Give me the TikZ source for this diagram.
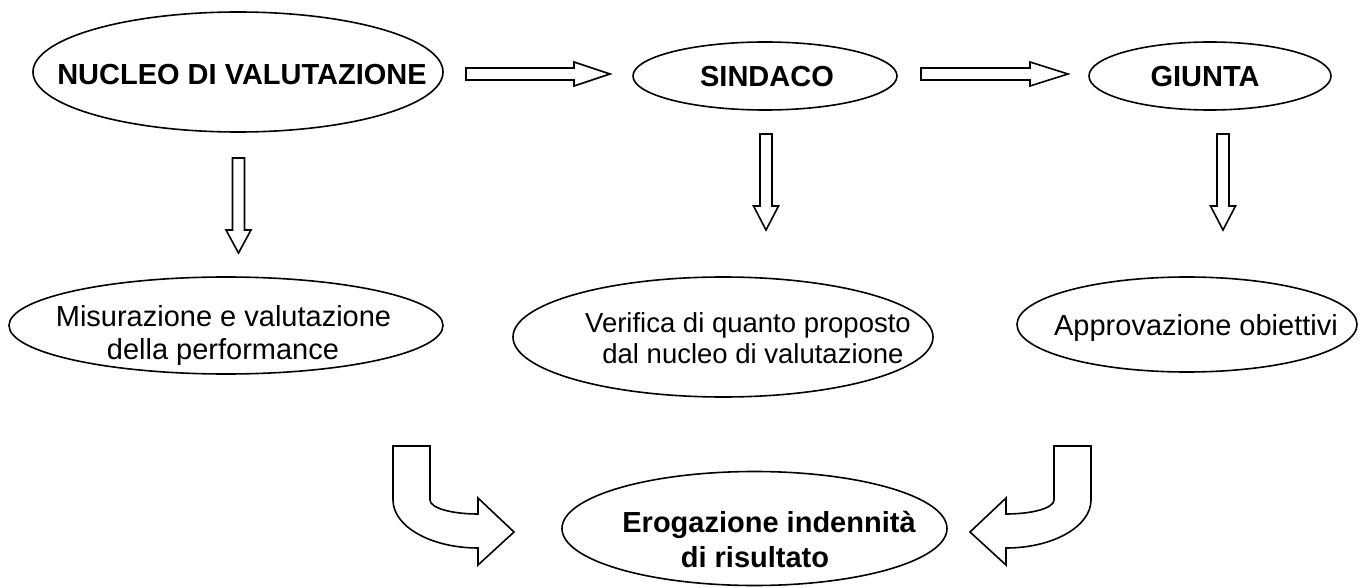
\documentclass[tikz,border=0pt]{standalone}
\usepackage{fontspec}
\setmainfont{Liberation Sans}
\usetikzlibrary{shapes.geometric}
\begin{document}
\begin{tikzpicture}[x=1pt,y=-1pt, line width=1.6pt,
  oval/.style={draw, ellipse, inner sep=0pt},
  lbl/.style={anchor=base, inner sep=0pt, font=\fontsize{29}{33}\selectfont},
  slbl/.style={anchor=base, inner sep=0pt, font=\fontsize{27.5}{31}\selectfont},
  blbl/.style={anchor=base, inner sep=0pt, font=\fontsize{29}{33}\selectfont\bfseries},
  blk/.style={draw, fill=white, line join=miter}]
\useasboundingbox (0,0) rectangle (1363,588);
% ellipses
\node[oval, minimum width=410pt, minimum height=120pt] (nucleo) at (238,72) {};
\node[oval, minimum width=264pt, minimum height=68pt] (sindaco) at (765,76) {};
\node[oval, minimum width=242pt, minimum height=68pt] (giunta) at (1210,76) {};
\node[oval, minimum width=434pt, minimum height=97pt] (misura) at (226,325.5) {};
\node[oval, minimum width=420pt, minimum height=120pt] (verifica) at (723,337) {};
\node[oval, minimum width=340pt, minimum height=95pt] (approva) at (1187,324.5) {};
\node[oval, minimum width=385pt, minimum height=114pt] (eroga) at (754.5,528.5) {};
% texts
\node[blbl] (tnucleo) at (242,85) {NUCLEO DI VALUTAZIONE};
\node[blbl] (tsindaco) at (767,87) {SINDACO};
\node[blbl] (tgiunta) at (1205,87) {GIUNTA};
\node[lbl] (tmis1) at (223.5,326) {Misurazione e valutazione};
\node[lbl] (tmis2) at (223,359) {della performance};
\node[slbl] (tver1) at (748,332) {Verifica di quanto proposto};
\node[slbl] (tver2) at (753,363) {dal nucleo di valutazione};
\node[lbl] (tapp) at (1196,335) {Approvazione obiettivi};
\node[blbl] (tero1) at (769,532) {Erogazione indennità};
\node[blbl] (tero2) at (755,567) {di risultato};
% horizontal block arrows
\draw[blk] (466,68) -- (574,68) -- (574,62) -- (610,74) -- (574,86) -- (574,80) -- (466,80) -- cycle;
\draw[blk] (921,68) -- (1030,68) -- (1030,62) -- (1068,74) -- (1030,86) -- (1030,80) -- (921,80) -- cycle;
% vertical block arrows
\draw[blk] (232.5,158) -- (244.5,158) -- (244.5,230) -- (251,230) -- (238.5,253) -- (226,230) -- (232.5,230) -- cycle;
\draw[blk] (760,134) -- (772,134) -- (772,206) -- (778.5,206) -- (766,230) -- (753.5,206) -- (760,206) -- cycle;
\draw[blk] (1217,134) -- (1229,134) -- (1229,206) -- (1235.5,206) -- (1223,230) -- (1210.5,206) -- (1217,206) -- cycle;
% curved block arrows
\draw[blk] (393,446) -- (430,446) -- (430,500)
  .. controls (430,508) and (451.5,514) .. (478,514)
  -- (478,498) -- (514,532) -- (478,565) -- (478,548)
  .. controls (431,548) and (393,526.5) .. (393,500) -- cycle;
\draw[blk] (1091,446) -- (1054,446) -- (1054,500)
  .. controls (1054,508) and (1032.5,514) .. (1006,514)
  -- (1006,498) -- (970,532) -- (1006,565) -- (1006,548)
  .. controls (1053,548) and (1091,526.5) .. (1091,500) -- cycle;
\end{tikzpicture}
\end{document}
